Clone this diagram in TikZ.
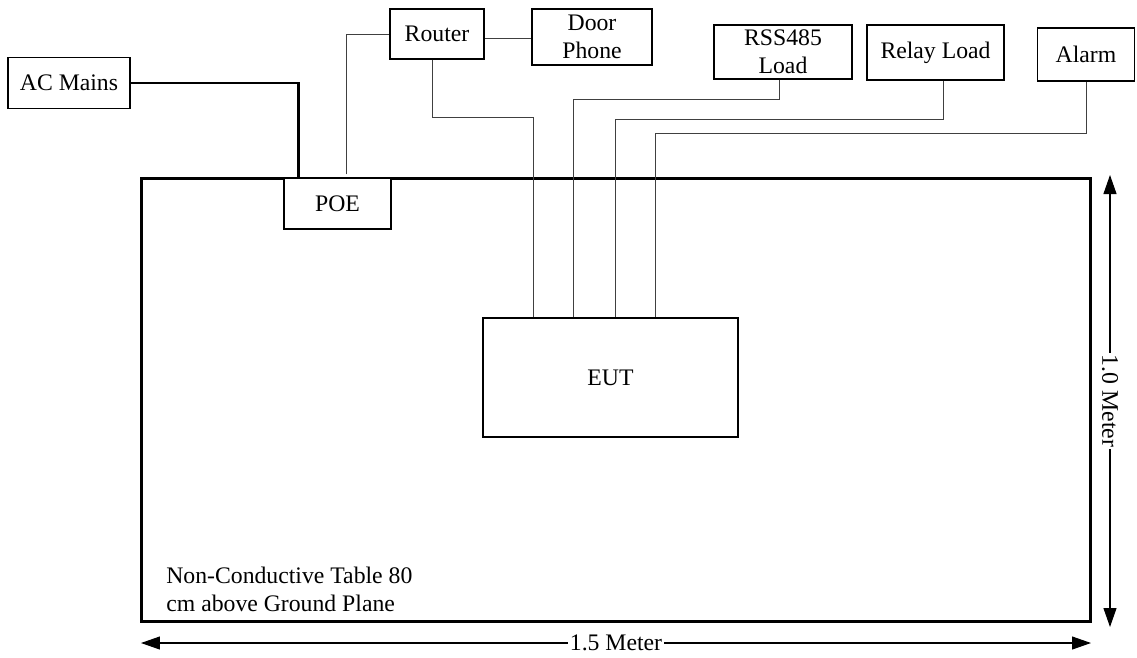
\documentclass[tikz,border=0pt]{standalone}
\usepackage{fontspec}
\setmainfont{Liberation Serif}
\usetikzlibrary{arrows.meta, calc, positioning}
\tikzset{
  box/.style       = {draw, line width=0.8pt, inner sep=0pt, align=center,
                      font=\fontsize{13.5}{16}\selectfont},
  tablebox/.style  = {draw, line width=1.7pt, inner sep=0pt},
  wire/.style      = {black!75, line width=0.55pt},
  mainsline/.style = {black, line width=1.5pt},
  dimline/.style   = {{Triangle[length=3.8mm, width=2.6mm]}-{Triangle[length=3.8mm, width=2.6mm]},
                      line width=0.6pt},
  dimlbl/.style    = {fill=white, inner sep=1pt, font=\fontsize{13.5}{15}\selectfont},
  lbl/.style       = {align=left, anchor=north west, inner sep=0pt,
                      font=\fontsize{13.5}{16}\selectfont},
}

\begin{document}
\begin{tikzpicture}[x=0.02cm, y=-0.02cm]
  \useasboundingbox (0,0) rectangle (1137,657);

  % table and equipment under test
  \node[tablebox, minimum width=19cm, minimum height=8.88cm] (table) at (616,400) {};
  \node[box, minimum width=5.1cm, minimum height=2.38cm] (eut) at (610.5,377.5) {EUT};
  \node[box, fill=white, minimum width=2.14cm, minimum height=1.02cm] (poe) at (337.5,203.5) {POE};

  % outside the table
  \node[box, minimum width=2.44cm, minimum height=1.02cm] (acmains) at (69,83) {AC Mains};
  \node[box, minimum width=1.88cm, minimum height=1.0cm] (router) at (437,34) {Router};
  \node[box, minimum width=2.4cm, minimum height=1.12cm] (door) at (592,37) {Door\\Phone};
  \node[box, minimum width=2.76cm, minimum height=1.08cm] (rs485) at (783,52) {RSS485\\Load};
  \node[box, minimum width=2.74cm, minimum height=1.1cm] (relay) at (935.5,52.5) {Relay Load};
  \node[box, minimum width=1.94cm, minimum height=1.06cm] (alarm) at (1086,54.5) {Alarm};

  % ports on the EUT and the POE
  \coordinate (port1) at ($(eut.north west)+(51,0)$);
  \coordinate (port2) at ($(eut.north west)+(91,0)$);
  \coordinate (port3) at ($(eut.north west)+(133,0)$);
  \coordinate (port4) at ($(eut.north west)+(173,0)$);
  \coordinate (mainsin) at ($(poe.north west)+(15,0)$);
  \coordinate (poeport) at ($(poe.north west)+(63,-3)$);

  % cabling
  \draw[mainsline] (acmains.east) -| (mainsin);
  \draw[wire] (poeport) |- (router.west);
  \draw[wire] ([yshift=-0.08cm]router.east) -- ([yshift=-0.08cm]router.east -| door.west);
  \draw[wire] ([xshift=-0.1cm]router.south) -- ++(0,58) -| (port1);
  \draw[wire] ([xshift=-0.08cm]rs485.south) -- ++(0,20) -| (port2);
  \draw[wire] ([xshift=0.15cm]relay.south) -- ++(0,39) -| (port3);
  \draw[wire] (alarm.south) -- ++(0,52) -| (port4);

  % dimensions
  \coordinate (wleft) at (141,643);
  \coordinate (wright) at (1091,643);
  \coordinate (htop) at (1110,175);
  \coordinate (hbot) at (1110,627);
  \draw[dimline] (wleft) -- node[dimlbl] {1.5 Meter} (wright);
  \draw[dimline] (htop) -- node[dimlbl, rotate=-90] {1.0 Meter} (hbot);

  \node[lbl] (note) at (166,567) {Non-Conductive Table 80\\cm above Ground Plane};
\end{tikzpicture}
\end{document}
